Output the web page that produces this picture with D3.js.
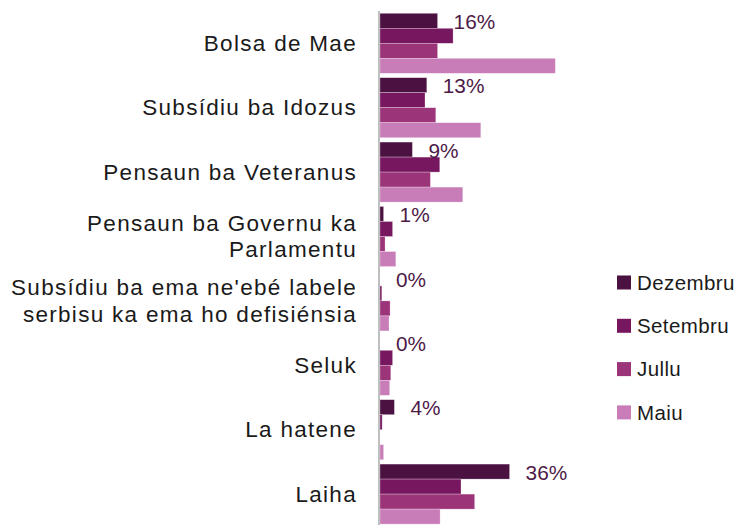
<!DOCTYPE html>
<html>
<head>
<meta charset="utf-8">
<script src="https://cdn.jsdelivr.net/npm/d3@7"></script>
<style>
  html, body { margin: 0; padding: 0; background: #fff; }
  svg { display: block; font-family: "Liberation Sans", Arial, sans-serif; }
</style>
</head>
<body>
<svg id="chart" width="737" height="525"></svg>
<script>
// Benefit categories (line breaks mark where long labels wrap)
const categories = [
  "Bolsa de Mae",
  "Subsídiu ba Idozus",
  "Pensaun ba Veteranus",
  "Pensaun ba Governu ka\nParlamentu",
  "Subsídiu ba ema ne'ebé labele\nserbisu ka ema ho defisiénsia",
  "Seluk",
  "La hatene",
  "Laiha"
];

// Survey rounds, most recent first
const seriesNames = ["Dezembru", "Setembru", "Jullu", "Maiu"];

// Share of respondents (%) per category for each round
const dezembru = [16, 13, 9, 1, 0, 0, 4, 36];
const setembru = [20.3, 12.5, 16.6, 3.5, 0.5, 3.5, 0.6, 22.5];
const jullu    = [16, 15.5, 14, 1.4, 2.8, 3, 0, 26.3];
const maiu     = [48.7, 28, 23, 4.4, 2.5, 2.7, 1, 16.7];

// Labels printed beside the Dezembru bars
const valueLabels = ["16%", "13%", "9%", "1%", "0%", "0%", "4%", "36%"];

const seriesValues = [dezembru, setembru, jullu, maiu];
const colors = ["#4b1140", "#76175f", "#9c3479", "#c87cb8"];

const rows = categories.map((c, i) => ({
  category: c,
  values: seriesNames.map((s, j) => ({ series: s, value: seriesValues[j][i] })),
  label: valueLabels[i]
}));

const svg = d3.select("#chart");

const x = d3.scaleLinear().domain([0, 50]).range([380, 560]);

const y0 = d3.scaleBand()
  .domain(categories)
  .range([11.1, 526.3])
  .paddingInner(0.068)
  .paddingOuter(0.034);

const y1 = d3.scaleBand()
  .domain(seriesNames)
  .range([0, y0.bandwidth()]);

const color = d3.scaleOrdinal().domain(seriesNames).range(colors);

// Bars
const groups = svg.append("g")
  .selectAll("g")
  .data(rows)
  .join("g")
  .attr("transform", d => `translate(0,${y0(d.category)})`);

groups.selectAll("rect")
  .data(d => d.values)
  .join("rect")
  .attr("x", x(0))
  .attr("y", d => y1(d.series))
  .attr("width", d => x(d.value) - x(0))
  .attr("height", y1.bandwidth())
  .attr("fill", d => color(d.series))
  .attr("stroke", "#ffffff")
  .attr("stroke-opacity", 0.45)
  .attr("stroke-width", 0.6);

// Value labels next to the Dezembru bar
groups.append("text")
  .attr("x", d => x(d.values[0].value) + 16)
  .attr("y", y1("Dezembru") + y1.bandwidth() + 0.7)
  .attr("fill", "#4d1a47")
  .attr("font-size", 20.8)
  .text(d => d.label);

// Category axis line
svg.append("line")
  .attr("x1", 379).attr("x2", 379)
  .attr("y1", 11).attr("y2", 525)
  .attr("stroke", "#bfbfbf")
  .attr("stroke-width", 2);

// Category labels, vertically centred on each group
const lineH = 26.7;
const catLabels = svg.append("g")
  .selectAll("text")
  .data(rows)
  .join("text")
  .attr("text-anchor", "end")
  .attr("font-size", 22.5)
  .attr("letter-spacing", 1.3)
  .attr("fill", "#1a1a1a")
  .attr("transform", d => `translate(357,${y0(d.category) + y0.bandwidth() / 2 - 0.5})`);

catLabels.each(function (d) {
  const lines = d.category.split("\n");
  const t = d3.select(this);
  lines.forEach((ln, k) => {
    t.append("tspan")
      .attr("x", 0)
      .attr("y", (k - (lines.length - 1) / 2) * lineH)
      .attr("dy", "0.36em")
      .text(ln);
  });
});

// Legend
const legend = svg.append("g")
  .selectAll("g")
  .data(seriesNames)
  .join("g")
  .attr("transform", (d, i) => `translate(617,${282.5 + i * 43.3})`);

legend.append("rect")
  .attr("x", 0).attr("y", -7)
  .attr("width", 14).attr("height", 14)
  .attr("fill", d => color(d));

legend.append("text")
  .attr("x", 20)
  .attr("dy", "0.36em")
  .attr("font-size", 20.5)
  .attr("letter-spacing", 0.4)
  .attr("fill", "#1a1a1a")
  .text(d => d);
</script>
</body>
</html>
